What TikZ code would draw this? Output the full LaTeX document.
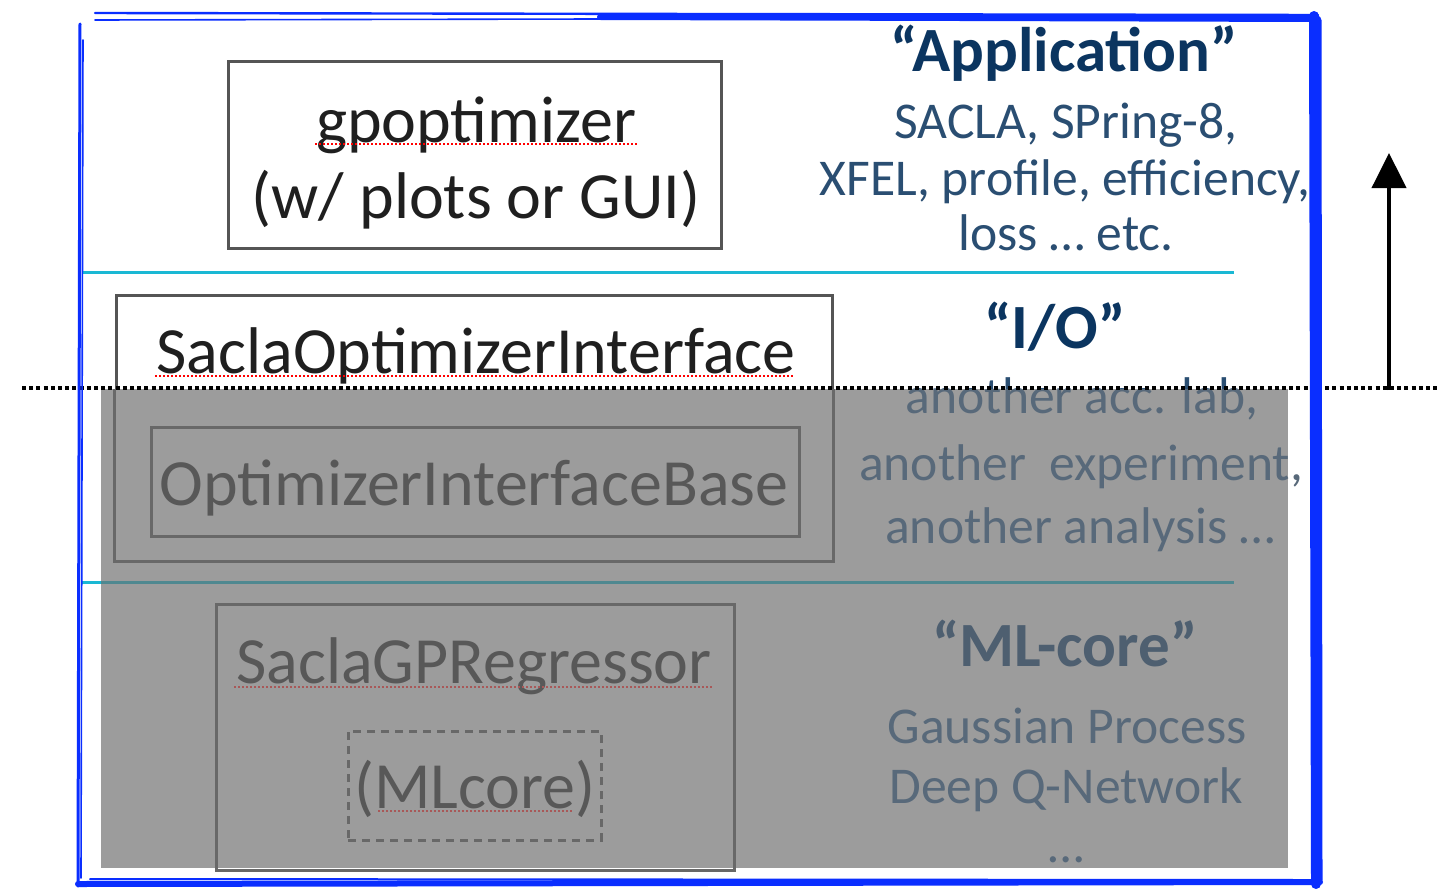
\documentclass[tikz,border=0pt]{standalone}
\usepackage{fontspec}
\setmainfont{Carlito}
\usetikzlibrary{arrows.meta}
\definecolor{navy}{HTML}{0B3560}
\definecolor{bodyblue}{HTML}{2A4E72}
\definecolor{cyanline}{HTML}{1AB8D4}
\definecolor{boxgray}{HTML}{555555}
\definecolor{pen}{HTML}{0A2EFF}
\definecolor{covergray}{HTML}{9C9C9C}
\definecolor{dtext}{HTML}{585858}
\definecolor{dboxgray}{HTML}{686868}
\definecolor{dnavy}{HTML}{4E5F70}
\definecolor{dbody}{HTML}{58697A}
\definecolor{dcyan}{HTML}{4F8890}
\definecolor{dred}{HTML}{A85858}
\begin{document}
\begin{tikzpicture}[x=0.5pt,y=-0.5pt,
  box/.style={draw=boxgray, line width=1.5pt, inner sep=0pt},
  dimbox/.style={draw=dboxgray, line width=1.5pt, inner sep=0pt},
  boxtxt/.style={font=\fontsize{33}{40}\selectfont, text=black!88, anchor=base, inner sep=0pt},
  head/.style={font=\bfseries\fontsize{31.5}{38}\selectfont, text=navy, anchor=base, inner sep=0pt},
  body/.style={font=\fontsize{25.8}{31}\selectfont, text=bodyblue, anchor=base, inner sep=0pt},
  squig/.style={draw=red, line width=0.8pt, dash pattern=on 1pt off 1pt},
  layer/.style={draw=cyanline, line width=1.5pt},
  penline/.style={draw=pen, line cap=round},
]
\useasboundingbox[fill=white] (0,0) rectangle (1438,888);

% ---------- upper (uncovered) part ----------
\node[box, minimum width=246.5pt, minimum height=93pt] (gp) at (474.5,155) {};
\node[box, minimum width=358pt, minimum height=132.5pt] (soi) at (474,427.5) {};
\node[boxtxt] (gpt1) at (476,142) {gpoptimizer};
\node[boxtxt] (gpt2) at (476,218) {(w/ plots or GUI)};
\node[boxtxt] (soit) at (476,373) {SaclaOptimizerInterface};
\draw[squig] (315,144) -- (637,144);
\draw[squig] (155,376) -- (795,376);

\node[head] (apph) at (1064,72) {“Application”};
\node[body] (app1) at (1066,138) {SACLA, SPring-8,};
\node[body] (app2) at (1065,195) {XFEL, profile, efficiency,};
\node[body] (app3) at (1066,250) {loss … etc.};
\node[head] (ioh) at (1055,348) {“I/O”};
\node[body] (io1) at (1082,413) {another acc. lab,};

\coordinate (l1a) at (82,272); \coordinate (l1b) at (1234,272);
\coordinate (l2a) at (82,582); \coordinate (l2b) at (1234,582);
\draw[layer] (l1a) -- (l1b);
\draw[layer] (l2a) -- (l2b);

% ---------- gray cover ----------
\coordinate (ovtl) at (101,389); \coordinate (ovbr) at (1288,868);
\fill[covergray] (ovtl) rectangle (ovbr);

% ---------- covered (dimmed) part ----------
\draw[dimbox] (soi.west |- ovtl) -- (soi.south west) -- (soi.south east) -- (soi.east |- ovtl);
\draw[draw=dcyan, line width=1.5pt] (ovtl |- l2a) -- (l2b);
\begin{scope}
  \clip (ovtl) rectangle (ovbr);
  \node[body, text=dbody] (io1d) at (1082,413) {another acc. lab,};
\end{scope}
\node[body, text=dbody] (io2) at (1081,480) {another \ experiment,};
\node[body, text=dbody] (io3) at (1080,543) {another analysis …};
\node[head, text=dnavy] (mlh) at (1065,666) {“ML-core”};
\node[body, text=dbody] (ml1) at (1067,743) {Gaussian Process};
\node[body, text=dbody] (ml2) at (1066,803) {Deep Q-Network};
\node[body, text=dbody] (ml3) at (1066,862) {…};

\node[dimbox, minimum width=324pt, minimum height=54.5pt] (oib) at (475,481.5) {};
\node[dimbox, minimum width=259pt, minimum height=133pt] (sgr) at (475,737) {};
\node[dimbox, dash pattern=on 4pt off 3pt, minimum width=126.5pt, minimum height=54.5pt] (ml) at (474.5,785.5) {};
\node[boxtxt, text=dtext] (oibt) at (474,505) {OptimizerInterfaceBase};
\node[boxtxt, text=dtext] (sgrt) at (474,683) {SaclaGPRegressor};
\node[boxtxt, text=dtext] (mlt) at (475,808) {(MLcore)};
\draw[squig, draw=dred] (234,687) -- (714,687);
\draw[squig, draw=dred] (378,811) -- (572,811);

% ---------- dotted line and arrow ----------
\coordinate (da) at (22,388); \coordinate (db) at (1438,388);
\draw[black, line width=2pt, dash pattern=on 2pt off 1.6pt] (da) -- (db);
\coordinate (ab) at (1389,390); \coordinate (at) at (1389,153);
\draw[black, line width=2pt, -{Triangle[width=17pt,length=17.5pt]}] (ab) -- (at);

% ---------- hand-drawn blue frame ----------
\draw[penline, line width=1.5pt] (80,24) -- (78,886);
\draw[penline, line width=0.8pt] (83,40) -- (81,878);
\draw[penline, line width=1.2pt] (95,13) -- (1318,15);
\draw[penline, line width=3pt] (600,17) -- (1318,19);
\draw[penline, line width=0.8pt] (95,20) -- (600,19);
\draw[penline, line width=5pt] (1314,16) -- (1316,884);
\draw[penline, line width=1.5pt] (1320,20) -- (1321,880);
\draw[penline, line width=3pt] (78,884) -- (1320,882);
\draw[penline, line width=1pt] (90,879) -- (1310,880);
\end{tikzpicture}
\end{document}
